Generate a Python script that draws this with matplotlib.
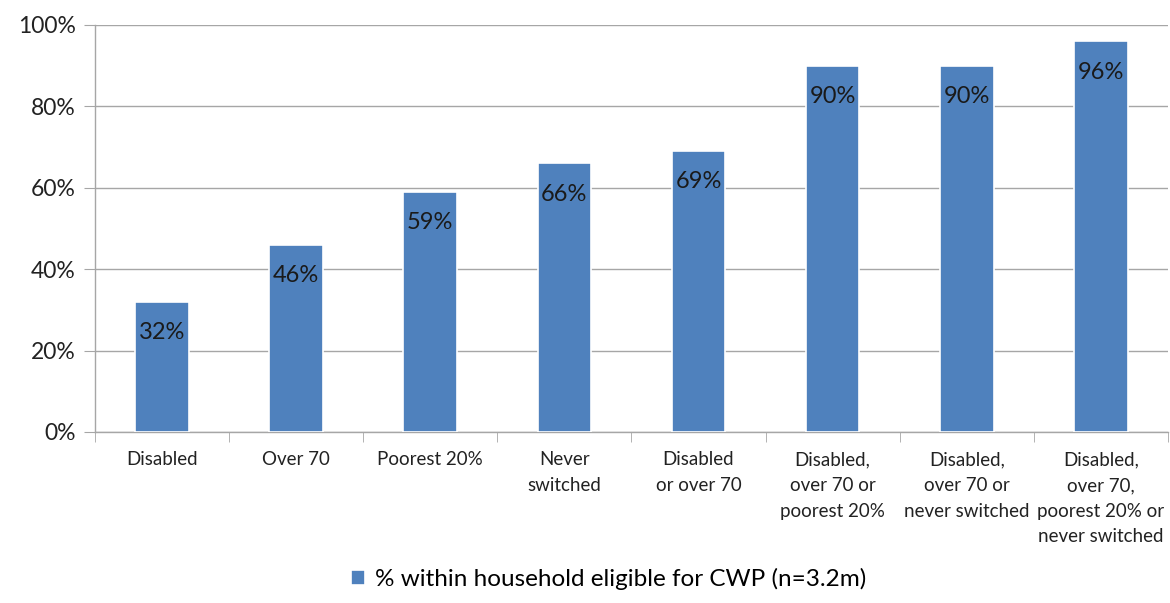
import numpy as np
import matplotlib.pyplot as plt

plt.rcParams['font.family'] = ['Lato', 'DejaVu Sans']

categories = ["Disabled", "Over 70", "Poorest 20%", "Never\nswitched",
              "Disabled\nor over 70", "Disabled,\nover 70 or\npoorest 20%",
              "Disabled,\nover 70 or\nnever switched",
              "Disabled,\nover 70,\npoorest 20% or\nnever switched"]
values = [32, 46, 59, 66, 69, 90, 90, 96]
series_name = "% within household eligible for CWP (n=3.2m)"

blue = "#4F81BD"
grid_grey = "#A6A6A6"

fig = plt.figure(figsize=(11.7, 6.03), dpi=100)
ax = fig.add_axes([0.0812, 0.2836, 0.917, 0.675])

x = np.arange(len(categories))
bars = ax.bar(x, values, width=0.4, color=blue, edgecolor="white",
              linewidth=1.2, label=series_name, zorder=3)

for xi, v in zip(x, values):
    ax.text(xi, v - 5, f"{v}%", ha="center", va="top", fontsize=17,
            color="#1a1a1a", zorder=4)

ax.set_xlim(-0.5, len(categories) - 0.5)
ax.set_ylim(0, 100)
ax.set_yticks(range(0, 101, 20))
ax.set_yticklabels([f"{t}%" for t in range(0, 101, 20)], fontsize=16.5,
                   color="#222222")
ax.yaxis.grid(True, color=grid_grey, linewidth=1, zorder=0)
ax.tick_params(axis="y", length=8, color=grid_grey, pad=6)

# category labels without ticks, tick marks between categories
ax.set_xticks(x)
ax.set_xticklabels(categories, fontsize=13.5, color="#222222",
                   linespacing=1.62, va="top")
ax.tick_params(axis="x", length=0, pad=14)
ax.set_xticks(np.arange(-0.5, len(categories)), minor=True)
ax.tick_params(axis="x", which="minor", length=7, color=grid_grey)

for side in ["top", "right"]:
    ax.spines[side].set_visible(False)
ax.spines["left"].set_color(grid_grey)
ax.spines["bottom"].set_color(grid_grey)
ax.spines["left"].set_linewidth(1)
ax.spines["bottom"].set_linewidth(1)

fig.legend(handles=[bars], labels=[series_name], loc="lower center",
           bbox_to_anchor=(0.52, -0.015), frameon=False, fontsize=17.5,
           handlelength=0.6, handleheight=0.6, handletextpad=0.4)

fig.savefig("out.png", dpi=100)
